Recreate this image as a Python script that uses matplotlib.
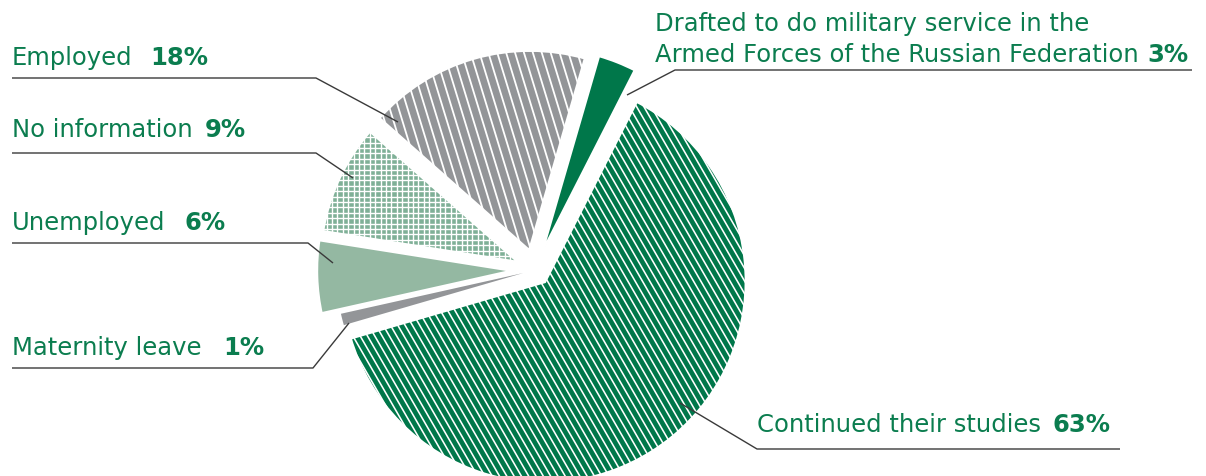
import numpy as np
import matplotlib
matplotlib.use('Agg')
import matplotlib.pyplot as plt
from matplotlib.collections import LineCollection

# 데이터 (시계방향 순서)
labels = ['Continued their studies', 'Maternity leave', 'Unemployed',
          'No information', 'Employed',
          'Drafted to do military service in the\nArmed Forces of the Russian Federation']
values = [63, 1, 6, 9, 18, 3]
pct_text = ['63%', '1%', '6%', '9%', '18%', '3%']

colors = ['#00774a', '#939598', '#94b8a2', '#7fb097', '#939598', '#00774a']
explode = [0.07, 0.06, 0.08, 0.07, 0.09, 0.10]
edge_w = [3.5, 0, 3.5, 3.5, 3.5, 1.5]
radii = [1, 0.92, 1, 1, 1, 1]
# 무늬: (각도, 간격px, 선굵기) / None = 단색
patterns = [[(-60, 7.3 * np.sin(np.deg2rad(60)), 1.15)],
            None,
            None,
            [(0, 5.4, 1.0), (90, 5.4, 1.0)],
            [(-73, 8.9 * np.sin(np.deg2rad(73)), 1.3)],
            None]

W, H = 1206, 476
cx, cy, R = 535, 270, 203   # 파이 중심(px), 반지름(px)
green = '#0b7d4f'

fig = plt.figure(figsize=(W / 100, H / 100), dpi=100)
ax = fig.add_axes([0, 0, 1, 1])

wedges, _ = ax.pie(values, colors=colors, explode=explode, startangle=63,
                   counterclock=False, radius=1,
                   wedgeprops=dict(edgecolor='white'))
for w, lw, r in zip(wedges, edge_w, radii):
    w.set_linewidth(lw)
    w.set_radius(r)

# 줄무늬 그리기 (웨지 모양으로 잘라냄)
for w, pat in zip(wedges, patterns):
    if pat is None:
        continue
    for ang, step, lw in pat:
        a = np.deg2rad(ang)
        d = np.array([np.cos(a), np.sin(a)])
        n = np.array([-d[1], d[0]])
        segs = []
        for k in np.arange(-1.5, 1.5, step / R):
            segs.append([k * n - 1.5 * d, k * n + 1.5 * d])
        lc = LineCollection(segs, colors='white', linewidths=lw, capstyle='butt')
        ax.add_collection(lc)
        lc.set_clip_path(w)

ax.set_xlim(-cx / R, (W - cx) / R)
ax.set_ylim(-(H - cy) / R, cy / R)
ax.set_aspect('auto')
ax.axis('off')


def px(x, y):
    return (x - cx) / R, (cy - y) / R


def leader(points, lw=1.0):
    xs, ys = zip(*[px(x, y) for x, y in points])
    ax.plot(xs, ys, color='#3a3a3a', lw=lw, solid_capstyle='butt')


def label(x, y, txt, x2, pct):
    ax.text(*px(x, y), txt, color=green, fontsize=17.5, va='baseline', ha='left')
    ax.text(*px(x2, y), pct, color=green, fontsize=17.5, fontweight='bold',
            va='baseline', ha='left')


# 왼쪽 라벨
label(12, 65, labels[4], 150, pct_text[4])
leader([(12, 78), (316, 78), (398, 122)])

label(12, 137, labels[3], 205, pct_text[3])
leader([(12, 153), (316, 153), (353, 178)])

label(12, 230, labels[2], 184, pct_text[2])
leader([(12, 243), (308, 243), (333, 263)])

label(12, 355, labels[1], 223, pct_text[1])
leader([(12, 368), (313, 368), (349, 323)])

# 오른쪽 라벨
ax.text(*px(655, 31), 'Drafted to do military service in the', color=green,
        fontsize=17.5, va='baseline', ha='left')
label(655, 62, 'Armed Forces of the Russian Federation', 1147, pct_text[5])
leader([(1192, 70), (675, 70), (627, 95)])

label(757, 432, labels[0], 1052, pct_text[0])
leader([(1120, 449), (757, 449), (680, 403)])

plt.savefig('out.png', dpi=100)
